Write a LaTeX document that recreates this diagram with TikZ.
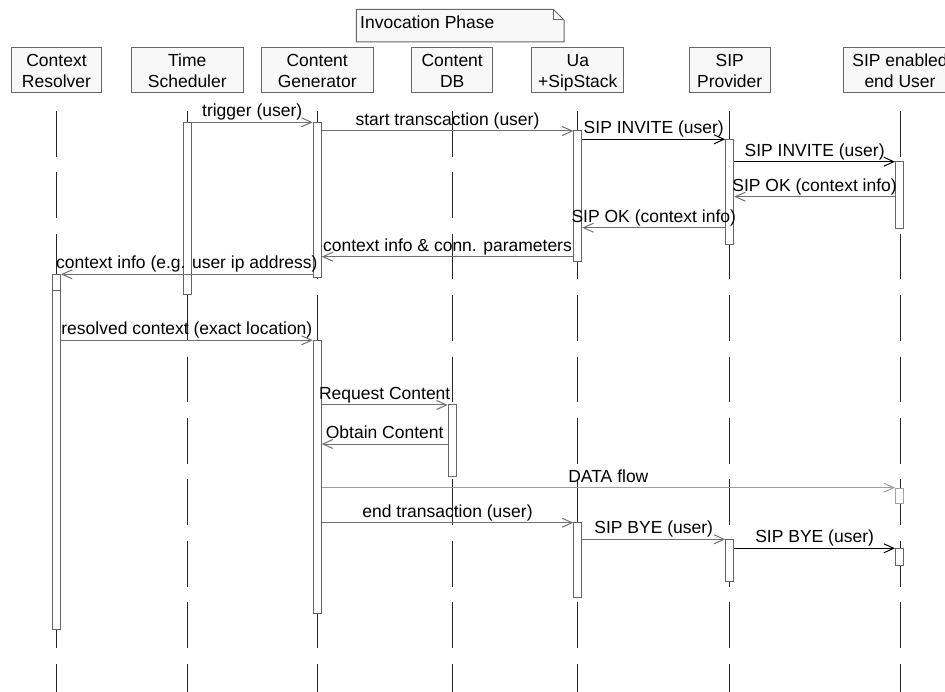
\documentclass[tikz,border=0pt]{standalone}
\usepackage{fontspec}
\setmainfont{Liberation Sans}
\usetikzlibrary{arrows.meta}
\definecolor{boxfill}{HTML}{F8F8F8}
\definecolor{boxline}{HTML}{666666}
\definecolor{msggray}{HTML}{707070}
\definecolor{lightline}{HTML}{A0A0A0}
\begin{document}
\begin{tikzpicture}[x=1pt,y=-1pt, font=\fontsize{17.5}{20.6}\selectfont,
 hdr/.style={draw=boxline, line width=1pt, fill=boxfill, minimum height=45.3pt, inner sep=0pt, align=center},
 life/.style={line width=0.9pt, black!85, dash pattern=on 45.7pt off 15.7pt},
 act/.style={draw=boxline, line width=1pt, fill=white, minimum width=8pt, inner sep=0pt},
 lightact/.style={act, draw=lightline},
 msg/.style={draw=msggray, line width=1pt, -{Straight Barb[length=10pt,width=9pt]}},
 msgdark/.style={msg, draw=black},
 msglight/.style={msg, draw=lightline},
 lbl/.style={anchor=base, yshift=5.5pt, inner sep=0pt, text=black}]

\useasboundingbox (0,0) rectangle (945,692);

% note
\draw[boxline, line width=1pt, fill=boxfill] (356.3,9.3) -- (553.3,9.3) -- (564,20) -- (564,42) -- (356.3,42) -- cycle;
\draw[boxline, line width=1pt] (553.3,9.3) -- (553.3,20) -- (564,20);
\node[anchor=base west, inner sep=0pt] (note) at (360,28.3) {Invocation Phase};

% headers
\node[hdr, minimum width=89.6pt] (hcr) at (56.5,69.7) {\rule{0pt}{14.6pt}Context\\\smash{Resolver}};
\node[hdr, minimum width=112pt] (hts) at (187.3,69.7) {\rule{0pt}{14.6pt}Time\\\smash{Scheduler}};
\node[hdr, minimum width=111.7pt] (hcg) at (317.2,69.7) {\rule{0pt}{14.6pt}Content\\\smash{Generator}};
\node[hdr, minimum width=81pt] (hdb) at (452.2,69.7) {\rule{0pt}{14.6pt}Content\\\smash{DB}};
\node[hdr, minimum width=91.7pt] (hua) at (577.8,69.7) {\rule{0pt}{14.6pt}Ua\\\smash{+SipStack}};
\node[hdr, minimum width=81.3pt] (hsp) at (729.7,69.7) {\rule{0pt}{14.6pt}SIP\\\smash{Provider}};
\node[hdr, minimum width=114pt] (heu) at (900,69.7) {\rule{0pt}{14.6pt}SIP enabled\\\smash{end User}};

% lifelines
\coordinate (top) at (0,111);
\coordinate (bot) at (0,692);
\foreach \h in {hcr,hts,hcg,hdb,hua,hsp,heu}
  \draw[life] (\h |- top) -- (\h |- bot);

% activations
\node[act, minimum height=172pt] (ts1) at (187.3,208.3) {};
\node[act, minimum height=155.4pt] (cg1) at (317.2,200) {};
\node[act, minimum height=15.7pt] (cr1) at (56.5,282.85) {};
\node[act, minimum height=338.6pt] (cr2) at (56.5,460) {};
\node[act, minimum height=273pt] (cg2) at (317.2,476.8) {};
\node[act, minimum height=72pt] (db1) at (452.2,440.3) {};
\node[act, minimum height=130.7pt] (ua1) at (577.8,196.35) {};
\node[act, minimum height=74.6pt] (ua2) at (577.8,560) {};
\node[act, minimum height=105pt] (sp1) at (729.7,191.8) {};
\node[act, minimum height=42pt] (sp2) at (729.7,560.3) {};
\node[act, minimum height=66.6pt] (eu1) at (899.5,195) {};
\node[lightact, minimum height=15pt] (eu2) at (899.5,495.8) {};
\node[act, minimum height=16.7pt] (eu3) at (899.5,556.65) {};

% message levels
\coordinate (m1) at (0,122.3);
\coordinate (m2) at (0,131);
\coordinate (m3) at (0,139.3);
\coordinate (m4) at (0,161.7);
\coordinate (m5) at (0,196.7);
\coordinate (m6) at (0,227.7);
\coordinate (m7) at (0,256.7);
\coordinate (m8) at (0,274.3);
\coordinate (m9) at (0,340.3);
\coordinate (m10) at (0,405);
\coordinate (m11) at (0,444);
\coordinate (m12) at (0,487.7);
\coordinate (m13) at (0,522.7);
\coordinate (m14) at (0,539.3);
\coordinate (m15) at (0,548.3);

% messages
\draw[msg] (ts1.east |- m1) -- node[lbl]{trigger (user)} (cg1.west |- m1);
\draw[msg] (cg1.east |- m2) -- node[lbl]{start transcaction (user)} (ua1.west |- m2);
\draw[msgdark] (ua1.east |- m3) -- node[lbl]{SIP INVITE (user)} (sp1.west |- m3);
\draw[msgdark] (sp1.east |- m4) -- node[lbl]{SIP INVITE (user)} (eu1.west |- m4);
\draw[msg] (eu1.west |- m5) -- node[lbl]{SIP OK (context info)} (sp1.east |- m5);
\draw[msg] (sp1.west |- m6) -- node[lbl]{SIP OK (context info)} (ua1.east |- m6);
\draw[msg] (ua1.west |- m7) -- node[lbl]{context info \& conn. parameters} (cg1.east |- m7);
\draw[msg] (cg1.west |- m8) -- node[lbl]{context info (e.g. user ip address)} (cr1.east |- m8);
\draw[msg] (cr2.east |- m9) -- node[lbl]{resolved context (exact location)} (cg2.west |- m9);
\draw[msg] (cg2.east |- m10) -- node[lbl]{Request Content} (db1.west |- m10);
\draw[msg] (db1.west |- m11) -- node[lbl]{Obtain Content} (cg2.east |- m11);
\draw[msglight] (cg2.east |- m12) -- node[lbl]{DATA flow} (eu2.west |- m12);
\draw[msg] (cg2.east |- m13) -- node[lbl]{end transaction (user)} (ua2.west |- m13);
\draw[msg] (ua2.east |- m14) -- node[lbl]{SIP BYE (user)} (sp2.west |- m14);
\draw[msgdark] (sp2.east |- m15) -- node[lbl]{SIP BYE (user)} (eu3.west |- m15);
\end{tikzpicture}
\end{document}
